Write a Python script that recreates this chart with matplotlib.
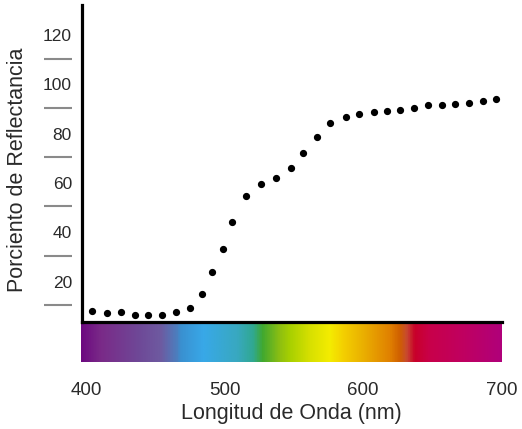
import matplotlib
matplotlib.use("Agg")
import matplotlib.pyplot as plt
import matplotlib.transforms as mtransforms
from matplotlib.colors import LinearSegmentedColormap
import numpy as np

plt.rcParams['font.family'] = ['Liberation Sans', 'DejaVu Sans']

# Data
wavelength = [404.5, 415.3, 425.1, 435.1, 444.9, 455.2, 464.7, 475.2, 483.6, 491.2,
              498.6, 505.5, 515.5, 526.1, 537.0, 547.6, 556.4, 566.9, 576.4, 587.7,
              597.2, 607.5, 617.0, 626.9, 636.9, 646.9, 657.2, 666.3, 676.5, 686.3, 695.8]
reflectance = [8.2, 7.3, 7.6, 6.6, 6.6, 6.6, 7.6, 9.2, 15.0, 23.8,
               33.1, 44.3, 54.7, 59.5, 62.0, 66.1, 72.3, 78.8, 84.2, 86.9,
               88.0, 88.6, 89.3, 89.6, 90.4, 91.6, 91.7, 91.9, 92.5, 93.2, 93.9]
x_ticks = [400, 500, 600, 700]
y_ticks = [20, 40, 60, 80, 100, 120]
y_dashes = [10.7, 30.5, 50.8, 70.7, 90.3, 110.2]

# Spectrum colour stops (position along bar 0..1, colour)
spec_pos = [0.0, 0.046, 0.141, 0.188, 0.229, 0.236, 0.290, 0.371, 0.409, 0.431,
            0.474, 0.497, 0.545, 0.592, 0.623, 0.671, 0.735, 0.758, 0.775, 0.794,
            0.830, 0.908, 1.0]
spec_col = ['#6c0a80', '#7a2a88', '#6e4a98', '#6e5aa0', '#4a80c0', '#3a90d0', '#38a8e8',
            '#38a8c0', '#30a890', '#40a830', '#90c010', '#a8d000', '#d8e000', '#f4ec00',
            '#f4d000', '#eab000', '#e08000', '#d06000', '#c84a30', '#c8002a', '#c8004a',
            '#c00060', '#b0007a']

W, H = 522, 429
fig = plt.figure(figsize=(W / 100, H / 100), dpi=100)

# Main axes
ax = fig.add_axes([81.7 / W, 1 - 322 / H, 420 / W, (322 - 5) / H])
ax.plot(wavelength, reflectance, 'o', color='black', markersize=4.2, linestyle='none')
ax.set_xlim(396.9, 697.9)
ax.set_ylim(3.65, 132.1)
for s in ['top', 'right']:
    ax.spines[s].set_visible(False)
for s in ['left', 'bottom']:
    ax.spines[s].set_linewidth(2.3)
    ax.spines[s].set_color('black')
ax.set_xticks(x_ticks)
ax.set_xticklabels([str(v) for v in x_ticks])
ax.set_yticks(y_ticks)
ax.set_yticklabels([str(v) for v in y_ticks])
ax.tick_params(axis='x', length=0, pad=43, labelsize=13.5, labelcolor='#2a2a2a')
ax.tick_params(axis='y', length=0, pad=7, labelsize=12.5, labelcolor='#2a2a2a')

trans = mtransforms.blended_transform_factory(ax.transAxes, ax.transData)
for d in y_dashes:
    ax.plot([-0.0898, -0.0224], [d, d], transform=trans, color='#8a8a8a',
            linewidth=1.5, clip_on=False, solid_capstyle='butt')

# Spectrum bar
sax = fig.add_axes([80.7 / W, 1 - 361.7 / H, 421 / W, (361.7 - 322.5) / H])
cmap = LinearSegmentedColormap.from_list('spec', list(zip(spec_pos, spec_col)))
grad = np.linspace(0, 1, 512).reshape(1, -1)
sax.imshow(grad, aspect='auto', cmap=cmap, extent=[0, 1, 0, 1])
sax.set_axis_off()
ax.set_zorder(3)
ax.patch.set_alpha(0)

fig.text(18 / W, 1 - 170 / H, 'Porciento de Reflectancia', rotation=90,
         ha='center', va='center', fontsize=15.5, color='#2a2a2a')
fig.text(291 / W, 1 - 413 / H, 'Longitud de Onda (nm)', ha='center', va='center',
         fontsize=15.5, color='#2a2a2a')

fig.savefig('out.png', dpi=100)
